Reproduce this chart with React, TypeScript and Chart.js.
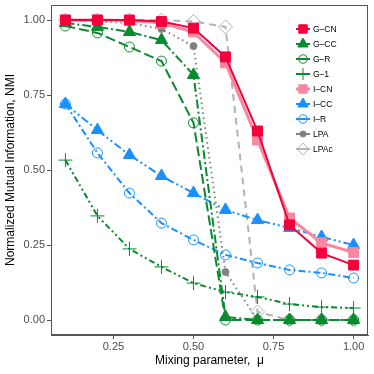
import React, { useEffect, useRef } from 'react';
import { Chart, registerables } from 'chart.js';
import { drawPoint } from 'chart.js/helpers';

Chart.register(...registerables);

const mu = [0.1, 0.2, 0.3, 0.4, 0.5, 0.6, 0.7, 0.8, 0.9, 1.0];
const xTicks = [0.25, 0.5, 0.75, 1.0];
const yTicks = [0, 0.25, 0.5, 0.75, 1.0];

const gCN = [1.0, 1.0, 1.0, 0.995, 0.973, 0.877, 0.63, 0.317, 0.223, 0.183];
const gCC = [0.99, 0.977, 0.96, 0.933, 0.817, 0.01, 0.0, 0.0, 0.0, 0.0];
const gR = [0.98, 0.957, 0.91, 0.863, 0.657, 0.0, 0.0, 0.0, 0.0, 0.0];
const g1 = [0.533, 0.347, 0.237, 0.177, 0.123, 0.093, 0.077, 0.053, 0.043, 0.04];
const iCN = [1.0, 1.0, 0.998, 0.99, 0.96, 0.857, 0.6, 0.34, 0.257, 0.225];
const iCC = [0.72, 0.633, 0.55, 0.48, 0.423, 0.367, 0.333, 0.307, 0.277, 0.25];
const iR = [0.72, 0.557, 0.423, 0.323, 0.267, 0.217, 0.19, 0.167, 0.157, 0.14];
const lpa = [1.0, 0.995, 0.99, 0.97, 0.913, 0.16, 0.0, 0.0, 0.0, 0.0];
const lpac = [1.0, 1.0, 1.0, 1.0, 0.995, 0.977, 0.027, 0.0, 0.0, 0.0];

const RED = '#F2003C';
const PINK = '#F7889F';
const GREEN = '#0A8A2F';
const BLUE = '#1A90FF';
const GREY = '#808080';
const LGREY = '#B3B3B3';

type S = {
  label: string; data: number[]; color: string; width: number; dash: number[];
  style: string; radius: number; fill: string; bw: number;
};

const series: S[] = [
  { label: 'G\u2013CN', data: gCN, color: RED, width: 2, dash: [], style: 'rect', radius: 7, fill: RED, bw: 1 },
  { label: 'G\u2013CC', data: gCC, color: GREEN, width: 2, dash: [9, 3, 2, 3], style: 'triangle', radius: 7, fill: GREEN, bw: 1 },
  { label: 'G\u2013R', data: gR, color: GREEN, width: 2, dash: [10, 4], style: 'circle', radius: 5, fill: 'rgba(0,0,0,0)', bw: 1 },
  { label: 'G\u20131', data: g1, color: GREEN, width: 2, dash: [6, 3, 2, 3, 2, 3], style: 'cross', radius: 7, fill: GREEN, bw: 1 },
  { label: 'I\u2013CN', data: iCN, color: PINK, width: 3, dash: [], style: 'rect', radius: 7, fill: PINK, bw: 1 },
  { label: 'I\u2013CC', data: iCC, color: BLUE, width: 2, dash: [8, 3, 2, 3, 2, 3], style: 'triangle', radius: 7, fill: BLUE, bw: 1 },
  { label: 'I\u2013R', data: iR, color: BLUE, width: 2, dash: [7, 3, 2, 3], style: 'circle', radius: 5, fill: 'rgba(0,0,0,0)', bw: 1 },
  { label: 'LPA', data: lpa, color: GREY, width: 2, dash: [1.5, 3.5], style: 'circle', radius: 3.5, fill: GREY, bw: 1 },
  { label: 'LPAc', data: lpac, color: LGREY, width: 2, dash: [7, 5], style: 'rectRot', radius: 7, fill: 'rgba(0,0,0,0)', bw: 1 },
];

const FONT = '"Liberation Sans", Arial, sans-serif';

const noPad = (sc: any) => {
  sc.paddingLeft = 0;
  sc.paddingRight = 0;
  sc.paddingTop = 0;
  sc.paddingBottom = 0;
};

const extras = {
  id: 'extras',
  afterDraw(chart: any) {
    const ctx = chart.ctx as CanvasRenderingContext2D;
    const a = chart.chartArea;
    ctx.save();
    ctx.strokeStyle = '#555555';
    ctx.lineWidth = 1;
    ctx.strokeRect(a.left + 0.5, a.top + 0.5, a.right - a.left - 1, a.bottom - a.top - 1);
    // legend
    series.forEach((s, i) => {
      const y = 29 + 15 * i;
      ctx.save();
      ctx.strokeStyle = s.color;
      ctx.lineWidth = s.width;
      ctx.setLineDash([]);
      ctx.beginPath();
      ctx.moveTo(296, y);
      ctx.lineTo(310, y);
      ctx.stroke();
      ctx.fillStyle = s.fill;
      ctx.strokeStyle = s.color;
      ctx.lineWidth = s.bw;
      drawPoint(ctx, { pointStyle: s.style as any, radius: s.radius * 0.85, rotation: 0, borderWidth: s.bw } as any, 303, y);
      ctx.restore();
      ctx.fillStyle = '#000';
      ctx.font = `8.5px ${FONT}`;
      ctx.textBaseline = 'middle';
      ctx.textAlign = 'left';
      ctx.fillText(s.label, 313, y + 0.5);
    });
    ctx.restore();
  },
};

export default function App() {
  const ref = useRef<HTMLCanvasElement>(null);
  useEffect(() => {
    if (!ref.current) return;
    const chart = new Chart(ref.current, {
      type: 'line',
      data: {
        datasets: series.map((s) => ({
          label: s.label,
          data: s.data.map((v, i) => ({ x: mu[i], y: v })),
          borderColor: s.color,
          backgroundColor: s.fill,
          borderWidth: s.width,
          borderDash: s.dash,
          pointStyle: s.style as any,
          pointRadius: s.radius,
          pointBackgroundColor: s.fill,
          pointBorderColor: s.color,
          pointBorderWidth: s.bw,
          tension: 0,
          fill: false,
        })),
      },
      options: {
        responsive: false,
        animation: false,
        layout: { autoPadding: false, padding: { left: 0, top: 5, right: 6, bottom: 0 } },
        plugins: { legend: { display: false }, tooltip: { enabled: false } },
        scales: {
          x: {
            type: 'linear',
            min: 0.055,
            max: 1.045,
            afterBuildTicks: (sc: any) => { sc.ticks = xTicks.map((value) => ({ value })); },
            afterFit: (sc: any) => { sc.height = 39; noPad(sc); },
            ticks: {
              callback: (v: any) => Number(v).toFixed(2),
              font: { size: 11, family: FONT },
              color: '#4D4D4D',
              padding: 1,
              maxRotation: 0,
            },
            grid: { drawOnChartArea: false, tickLength: 4, color: '#555555' },
            border: { display: true, color: '#555555' },
            title: {
              display: true,
              text: 'Mixing parameter,  \u03bc',
              font: { size: 12, family: FONT },
              color: '#000',
              padding: { top: 0, bottom: 6 },
            },
          },
          y: {
            type: 'linear',
            min: -0.05,
            max: 1.05,
            afterBuildTicks: (sc: any) => { sc.ticks = yTicks.map((value) => ({ value })); },
            afterFit: (sc: any) => { sc.width = 51; noPad(sc); },
            ticks: {
              callback: (v: any) => Number(v).toFixed(2),
              font: { size: 11, family: FONT },
              color: '#4D4D4D',
              padding: 2,
            },
            grid: { drawOnChartArea: false, tickLength: 4, color: '#555555' },
            border: { display: true, color: '#555555' },
            title: {
              display: true,
              text: 'Normalized Mutual Information, NMI',
              font: { size: 12, family: FONT },
              color: '#000',
              padding: { top: 3, bottom: 0 },
            },
          },
        },
      },
      plugins: [extras],
    });
    return () => chart.destroy();
  }, []);
  return (
    <div style={{ position: 'fixed', left: 0, top: 0, width: 374, height: 374, background: '#fff' }}>
      <canvas ref={ref} width={374} height={374} />
    </div>
  );
}
